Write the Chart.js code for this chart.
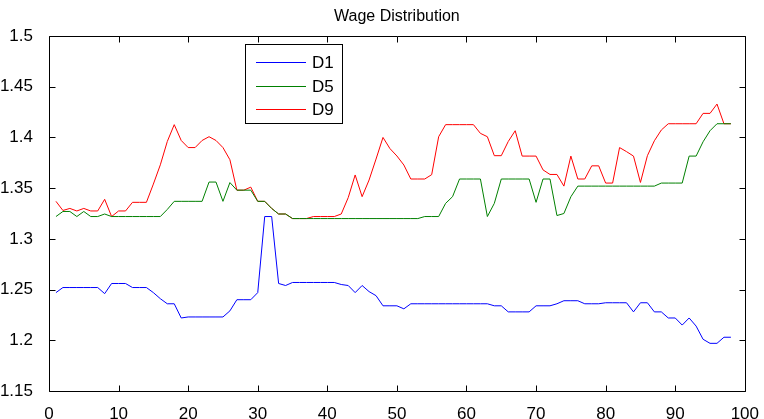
<!DOCTYPE html>
<html>
<head>
<meta charset="utf-8">
<script src="https://cdn.jsdelivr.net/npm/chart.js"></script>
<style>
  html, body { margin: 0; padding: 0; background: #fff; }
</style>
</head>
<body>
<canvas id="wageChart" width="764" height="419"></canvas>
<script>
// values, one per period (periods 1..98)
var d1 = [1.247, 1.252, 1.252, 1.252, 1.252, 1.252, 1.252, 1.246, 1.256, 1.256,
          1.256, 1.252, 1.252, 1.252, 1.247, 1.241, 1.236, 1.236, 1.222, 1.223,
          1.223, 1.223, 1.223, 1.223, 1.223, 1.229, 1.240, 1.240, 1.240, 1.247,
          1.322, 1.322, 1.256, 1.254, 1.257, 1.257, 1.257, 1.257, 1.257, 1.257,
          1.257, 1.255, 1.254, 1.247, 1.254, 1.248, 1.244, 1.234, 1.234, 1.234,
          1.231, 1.236, 1.236, 1.236, 1.236, 1.236, 1.236, 1.236, 1.236, 1.236,
          1.236, 1.236, 1.236, 1.234, 1.234, 1.228, 1.228, 1.228, 1.228, 1.234,
          1.234, 1.234, 1.236, 1.239, 1.239, 1.239, 1.236, 1.236, 1.236, 1.237,
          1.237, 1.237, 1.237, 1.228, 1.237, 1.237, 1.228, 1.228, 1.222, 1.222,
          1.215, 1.222, 1.214, 1.201, 1.197, 1.197, 1.203, 1.203];

var d5 = [1.322, 1.327, 1.327, 1.322, 1.327, 1.322, 1.322, 1.3245, 1.322, 1.322,
          1.322, 1.322, 1.322, 1.322, 1.322, 1.322, 1.329, 1.337, 1.337, 1.337,
          1.337, 1.337, 1.356, 1.356, 1.337, 1.3555, 1.348, 1.348, 1.348, 1.337,
          1.337, 1.330, 1.3245, 1.3245, 1.320, 1.320, 1.320, 1.320, 1.320, 1.320,
          1.320, 1.320, 1.320, 1.320, 1.320, 1.320, 1.320, 1.320, 1.320, 1.320,
          1.320, 1.320, 1.320, 1.322, 1.322, 1.322, 1.335, 1.3416, 1.359, 1.359,
          1.359, 1.359, 1.322, 1.335, 1.359, 1.359, 1.359, 1.359, 1.359, 1.336,
          1.359, 1.359, 1.323, 1.325, 1.3415, 1.352, 1.352, 1.352, 1.352, 1.352,
          1.352, 1.352, 1.352, 1.352, 1.352, 1.352, 1.352, 1.355, 1.355, 1.355,
          1.355, 1.3816, 1.3816, 1.3957, 1.4066, 1.4135, 1.4135, 1.4135];

var d9 = [1.337, 1.328, 1.330, 1.3275, 1.330, 1.3275, 1.3275, 1.339, 1.322, 1.3275,
          1.3275, 1.336, 1.336, 1.336, 1.354, 1.373, 1.396, 1.4126, 1.397, 1.390,
          1.390, 1.397, 1.4007, 1.397, 1.390, 1.378, 1.348, 1.348, 1.351, 1.337,
          1.337, 1.330, 1.3245, 1.3245, 1.320, 1.320, 1.320, 1.322, 1.322, 1.322,
          1.322, 1.3245, 1.3406, 1.363, 1.3416, 1.358, 1.3787, 1.400, 1.389, 1.3817,
          1.3728, 1.359, 1.359, 1.359, 1.3633, 1.4007, 1.4126, 1.4126, 1.4126, 1.4126,
          1.4126, 1.404, 1.4007, 1.382, 1.382, 1.396, 1.4066, 1.3816, 1.3816, 1.3816,
          1.368, 1.3635, 1.3635, 1.352, 1.3816, 1.359, 1.359, 1.372, 1.372, 1.355,
          1.355, 1.390, 1.386, 1.3816, 1.3556, 1.382, 1.3967, 1.4073, 1.4135, 1.4135,
          1.4135, 1.4135, 1.4135, 1.4237, 1.4237, 1.4329, 1.4135, 1.4135];

var seriesNames = ['D1', 'D5', 'D9'];
var seriesColors = ['#0000ff', '#008000', '#ff0000'];
var chartTitle = 'Wage Distribution';

var textFont = '"Liberation Sans", Arial, sans-serif';

function toPoints(values) {
    return values.map(function (v, i) { return { x: i + 1, y: v }; });
}

// MATLAB-like frame: box, inward ticks on all sides, title and legend box
var matlabFrame = {
    id: 'matlabFrame',
    afterDraw: function (chart) {
        var ctx = chart.ctx;
        var a = chart.chartArea;
        var xs = chart.scales.x;
        var ys = chart.scales.y;
        var L = Math.round(a.left) + 0.5, R = Math.round(a.right) + 0.5;
        var T = Math.round(a.top) + 0.5, B = Math.round(a.bottom) + 0.5;

        ctx.save();
        ctx.strokeStyle = '#000';
        ctx.lineWidth = 1;
        ctx.beginPath();
        ctx.rect(L, T, R - L, B - T);
        xs.ticks.forEach(function (t) {
            var px = Math.round(xs.getPixelForValue(t.value)) + 0.5;
            ctx.moveTo(px, B); ctx.lineTo(px, B - 6);
            ctx.moveTo(px, T); ctx.lineTo(px, T + 6);
        });
        ys.ticks.forEach(function (t) {
            var py = Math.round(ys.getPixelForValue(t.value)) + 0.5;
            ctx.moveTo(L, py); ctx.lineTo(L + 6, py);
            ctx.moveTo(R, py); ctx.lineTo(R - 6, py);
        });
        ctx.stroke();

        // title
        ctx.fillStyle = '#000';
        ctx.font = '16px ' + textFont;
        ctx.textAlign = 'center';
        ctx.textBaseline = 'middle';
        ctx.fillText(chartTitle, (a.left + a.right) / 2, 17);

        // legend
        var bx = 245.5, by = 44.5, bw = 97, bh = 79;
        ctx.fillStyle = '#fff';
        ctx.fillRect(bx, by, bw, bh);
        ctx.strokeRect(bx, by, bw, bh);
        ctx.font = '17px ' + textFont;
        ctx.textAlign = 'left';
        chart.data.datasets.forEach(function (ds, i) {
            var y = Math.round(62 + i * 23.5) + 0.5;
            ctx.strokeStyle = ds.borderColor;
            ctx.beginPath();
            ctx.moveTo(256, y);
            ctx.lineTo(306, y);
            ctx.stroke();
            ctx.fillStyle = '#000';
            ctx.fillText(ds.label, 312, y + 1);
        });
        ctx.restore();
    }
};

var ctxWage = document.getElementById('wageChart').getContext('2d');
var wageChart = new Chart(ctxWage, {
    type: 'line',
    data: {
        datasets: seriesNames.map(function (name, i) {
            return {
                label: name,
                data: toPoints([d1, d5, d9][i]),
                borderColor: seriesColors[i],
                backgroundColor: seriesColors[i],
                borderWidth: 1,
                pointRadius: 0,
                tension: 0,
                fill: false
            };
        })
    },
    options: {
        responsive: false,
        animation: false,
        layout: { padding: { top: 36, right: 18, left: 0, bottom: 0 } },
        plugins: {
            legend: { display: false },
            title: { display: false },
            tooltip: { enabled: false }
        },
        scales: {
            x: {
                type: 'linear',
                min: 0,
                max: 100,
                grid: { display: false },
                border: { display: false },
                ticks: {
                    stepSize: 10,
                    maxRotation: 0,
                    padding: 5,
                    color: '#000',
                    font: { family: textFont, size: 17 }
                },
                afterFit: function (scale) { scale.height = 28; }
            },
            y: {
                min: 1.15,
                max: 1.5,
                grid: { display: false },
                border: { display: false },
                ticks: {
                    stepSize: 0.05,
                    padding: 8,
                    color: '#000',
                    font: { family: textFont, size: 17 },
                    callback: function (v) { return String(+v.toFixed(2)); }
                },
                afterFit: function (scale) { scale.width = 49; }
            }
        }
    },
    plugins: [matlabFrame]
});
</script>
</body>
</html>
